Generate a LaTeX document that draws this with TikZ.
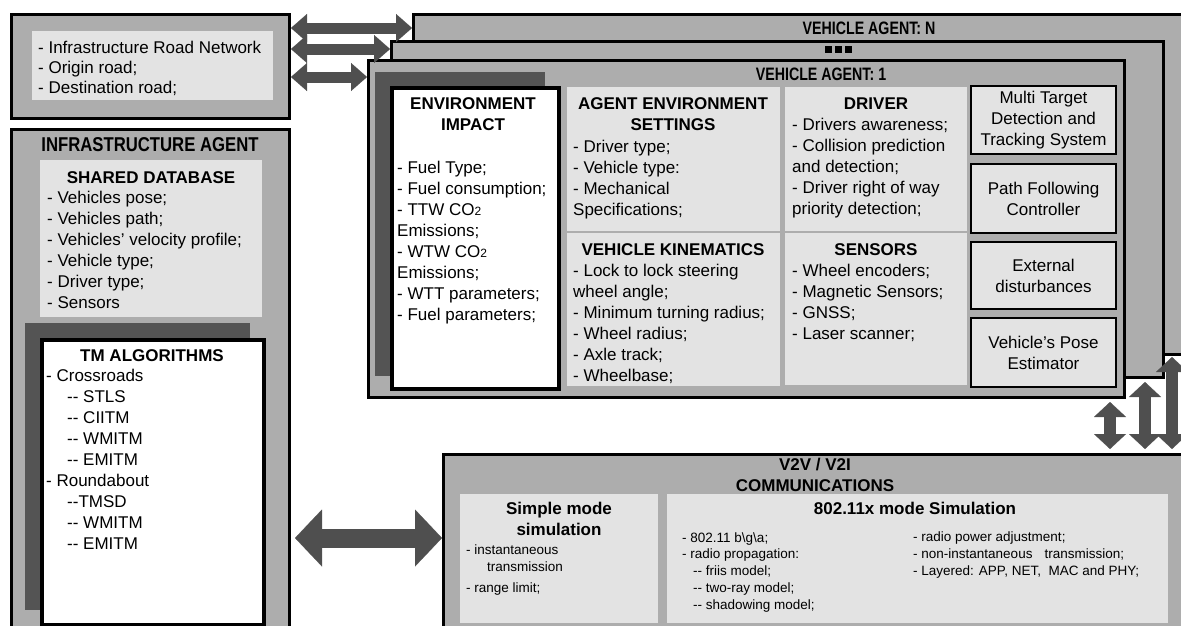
\documentclass[tikz,border=0pt]{standalone}
\usepackage{fontspec}
\setmainfont{Liberation Sans}
\usepackage{graphicx}
\usetikzlibrary{arrows.meta}
\definecolor{boxgrey}{gray}{0.68}
\definecolor{panelgrey}{gray}{0.89}
\definecolor{shadegrey}{gray}{0.33}
\definecolor{arrowgrey}{gray}{0.31}
\begin{document}
\begin{tikzpicture}[x=1pt,y=-1pt,
frame/.style={draw=black,line width=3pt,fill=boxgrey,inner sep=0pt,anchor=north west},
panel/.style={fill=panelgrey,inner sep=0pt,anchor=north west},
shade/.style={fill=shadegrey,inner sep=0pt,anchor=north west},
paper/.style={draw=black,line width=4pt,fill=white,inner sep=0pt,anchor=north west},
unit/.style={draw=black,line width=2pt,fill=panelgrey,inner sep=0pt,anchor=north west,align=center,font=\body},
txt/.style={anchor=base west,align=left,inner sep=0pt,font=\body},
head/.style={anchor=base,align=center,inner sep=0pt,font=\head},
fat/.style={draw=arrowgrey,line width=11pt,{Triangle[width=28pt,length=16pt,line width=0.1pt]}-{Triangle[width=28pt,length=16pt,line width=0.1pt]}},
vfat/.style={draw=arrowgrey,line width=12pt,{Triangle[width=32pt,length=15pt,line width=0.1pt]}-{Triangle[width=32pt,length=15pt,line width=0.1pt]}},
hfat/.style={draw=arrowgrey,line width=19pt,{Triangle[width=57pt,length=27pt,line width=0.1pt]}-{Triangle[width=57pt,length=27pt,line width=0.1pt]}}
]
\def\body{\fontsize{17}{21}\selectfont}
\def\head{\bfseries\fontsize{17}{21}\selectfont}
\def\fine{\fontsize{13.5}{16.7}\selectfont}
\def\agent#1{\scalebox{0.79}[1]{\bfseries\fontsize{18}{21}\selectfont #1}}
\def\two{{\fontsize{12}{12}\selectfont 2}}
\useasboundingbox (0,0) rectangle (1181,625);
\clip (0,0) rectangle (1181,625);
% multi-line texts sit on the baseline of their last line

% road network
\node[frame,minimum width=278,minimum height=104] (road) at (10,13) {};
\node[panel,minimum width=241,minimum height=69] (roadin) at (32,31) {};
\node[txt,font=\fontsize{17}{20}\selectfont] (roadtxt) at (38,93) {- Infrastructure Road Network\\- Origin road;\\- Destination road;};

% infrastructure agent
\node[frame,minimum width=278,minimum height=520] (infra) at (10,128) {};
\node[head] (infratitle) at (150,151) {\scalebox{0.835}[1]{\bfseries\fontsize{20}{24}\selectfont INFRASTRUCTURE AGENT}};
\node[panel,minimum width=222,minimum height=157] (db) at (40,160) {};
\node[head] (dbhead) at (151,183) {SHARED DATABASE};
\node[txt] (dbtxt) at (47,308) {- Vehicles pose;\\- Vehicles path;\\- Vehicles’ velocity profile;\\- Vehicle type;\\- Driver type;\\- Sensors};
\node[shade,minimum width=225,minimum height=287] (tmshade) at (25,323) {};
\node[paper,minimum width=222,minimum height=285] (tm) at (40,338) {};
\node[head] (tmhead) at (152,361) {TM ALGORITHMS};
\node[txt] (tmtxt) at (46,549) {- Crossroads\\\hspace*{21pt}-{}- STLS\\\hspace*{21pt}-{}- CIITM\\\hspace*{21pt}-{}- WMITM\\\hspace*{21pt}-{}- EMITM\\- Roundabout\\\hspace*{21pt}-{}-TMSD\\\hspace*{21pt}-{}- WMITM\\\hspace*{21pt}-{}- EMITM};

% vehicle agents
\node[frame,minimum width=800,minimum height=340] (vehN) at (412,13) {};
\node[head] (vehNtitle) at (869,34) {\agent{VEHICLE AGENT: N}};
\node[frame,minimum width=772,minimum height=336] (vehDots) at (390,40) {};
\node[inner sep=0pt] (dots) at (838,49) {\rule{7pt}{7pt}\hspace{3pt}\rule{7pt}{7pt}\hspace{3pt}\rule{7pt}{7pt}};
\node[frame,minimum width=756,minimum height=337] (veh1) at (367,59) {};
\node[head] (veh1title) at (821,80) {\agent{VEHICLE AGENT: 1}};

\node[shade,minimum width=170,minimum height=304] (envshade) at (375,72) {};
\node[paper,minimum width=167,minimum height=301] (env) at (390,86) {};
\node[head] (envhead) at (473,130) {ENVIRONMENT\\IMPACT};
\node[txt] (envtxt) at (397,320) {- Fuel Type;\\- Fuel consumption;\\- TTW CO\two\\Emissions;\\- WTW CO\two\\Emissions;\\- WTT parameters;\\- Fuel parameters;};

\node[panel,minimum width=213,minimum height=144] (aes) at (567,87) {};
\node[head] (aeshead) at (673,130) {AGENT ENVIRONMENT\\SETTINGS};
\node[txt] (aestxt) at (573,215) {- Driver type;\\- Vehicle type:\\- Mechanical\\Specifications;};
\node[panel,minimum width=213,minimum height=153] (kin) at (567,233) {};
\node[head] (kinhead) at (673,255) {VEHICLE KINEMATICS};
\node[txt] (kintxt) at (573,381) {- Lock to lock steering\\wheel angle;\\- Minimum turning radius;\\- Wheel radius;\\- Axle track;\\- Wheelbase;};

\node[panel,minimum width=182,minimum height=144] (drv) at (785,87) {};
\node[head] (drvhead) at (876,109) {DRIVER};
\node[txt] (drvtxt) at (792,214) {- Drivers awareness;\\- Collision prediction\\and detection;\\- Driver right of way\\priority detection;};
\node[panel,minimum width=182,minimum height=152] (sens) at (785,233) {};
\node[head] (senshead) at (876,255) {SENSORS};
\node[txt] (senstxt) at (792,339) {- Wheel encoders;\\- Magnetic Sensors;\\- GNSS;\\- Laser scanner;};

\node[unit,minimum width=145,minimum height=68] (mtt) at (970,85) {Multi Target\\Detection and\\Tracking System};
\node[unit,minimum width=145,minimum height=69] (pfc) at (970,163) {Path Following\\Controller};
\node[unit,minimum width=145,minimum height=67] (ext) at (970,241) {External\\disturbances};
\node[unit,minimum width=145,minimum height=69] (pose) at (970,317) {Vehicle's Pose\\Estimator};

% communications
\node[frame,minimum width=760,minimum height=200] (comm) at (442,453) {};
\node[panel,minimum width=198,minimum height=129] (simple) at (460,494) {};
\node[head] (simplehead) at (559,535) {Simple mode\\simulation};
\node[txt,font=\fine] (simpletxt) at (466,592) {- instantaneous\\\hspace*{21pt}transmission\\[4pt]- range limit;};
\node[panel,minimum width=501,minimum height=129] (wifi) at (667,494) {};
\node[head] (wifihead) at (915,514) {802.11x mode Simulation};
\node[txt,font=\fine] (wifileft) at (682,609) {- 802.11 b\textbackslash g\textbackslash a;\\- radio propagation:\\\hspace*{11pt}-{}- friis model;\\\hspace*{11pt}-{}- two-ray model;\\\hspace*{11pt}-{}- shadowing model;};
\node[txt,font=\fine] (wifiright) at (913,575) {- radio power adjustment;\\- non-instantaneous\hspace{12pt}transmission;\\- Layered: APP, NET,\ \ MAC and PHY;};
\node[head] (commhead) at (815,491) {V2V / V2I\\COMMUNICATIONS};

% links
\coordinate (r1) at (0,28);
\coordinate (r2) at (0,49);
\coordinate (r3) at (0,77);
\draw[fat] (road.east |- r1) -- (vehN.west |- r1);
\draw[fat] (road.east |- r2) -- (vehDots.west |- r2);
\draw[fat] (road.east |- r3) -- (veh1.west |- r3);
\coordinate (h) at (0,538);
\draw[hfat,shorten <=4pt] (infra.east |- h) -- (comm.west |- h);
\coordinate (c1) at (1110,0);
\coordinate (c2) at (1145,0);
\coordinate (c3) at (1172,0);
\draw[vfat,shorten <=3pt,shorten >=4pt] (veh1.south -| c1) -- (comm.north -| c1);
\draw[vfat,shorten <=3pt,shorten >=4pt] (vehDots.south -| c2) -- (comm.north -| c2);
\draw[vfat,shorten <=1pt,shorten >=4pt] (vehN.south -| c3) -- (comm.north -| c3);
\end{tikzpicture}
\end{document}
